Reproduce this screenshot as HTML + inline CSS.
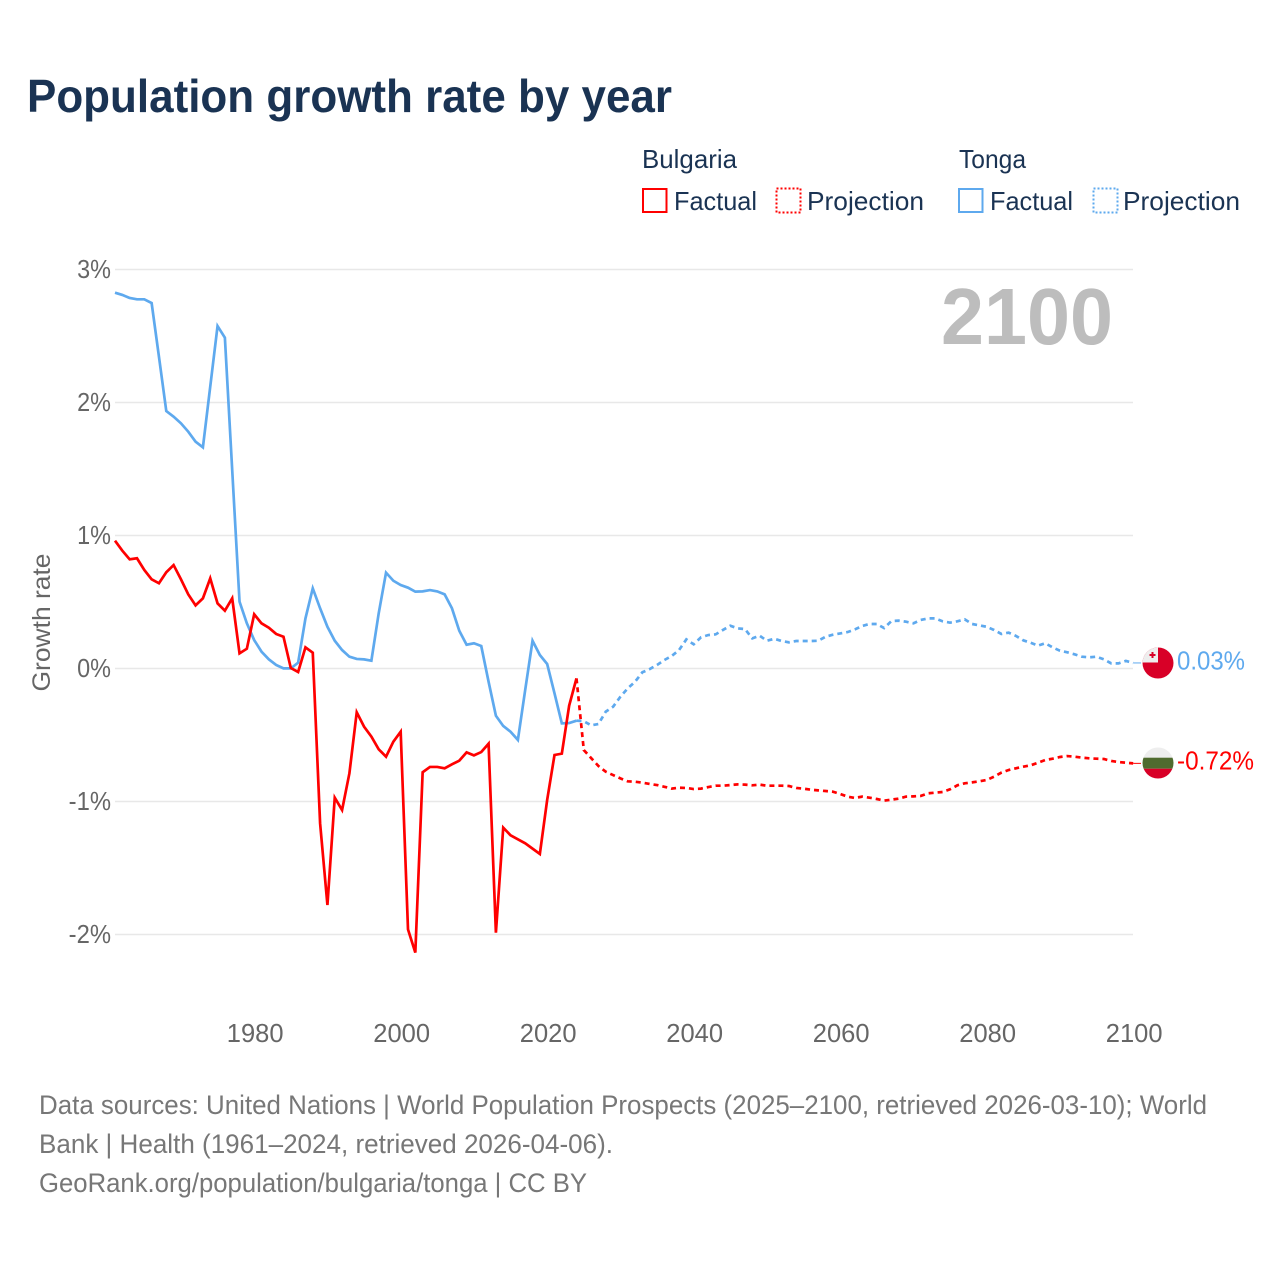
<!DOCTYPE html>
<html lang="en">
<head>
<meta charset="utf-8">
<title>Population growth rate by year</title>
<style>
html,body{margin:0;padding:0;background:#fff;}
svg{display:block;font-family:"Liberation Sans",sans-serif;}
</style>
</head>
<body>
<svg id="chart" width="1280" height="1280" viewBox="0 0 1280 1280" xmlns="http://www.w3.org/2000/svg">
  <rect x="0" y="0" width="1280" height="1280" fill="#fff"/>
  <text x="27" y="112" font-size="46" font-weight="700" fill="#1a3353" textLength="645" lengthAdjust="spacingAndGlyphs">Population growth rate by year</text>

  <g font-size="26" fill="#1a3353">
    <text x="642" y="168" textLength="95" lengthAdjust="spacingAndGlyphs">Bulgaria</text>
    <rect x="643" y="189" width="23.5" height="23" fill="none" stroke="#ff0000" stroke-width="2"/>
    <text x="674" y="210" textLength="83" lengthAdjust="spacingAndGlyphs">Factual</text>
    <rect x="776.5" y="188.5" width="24" height="24" fill="none" stroke="#ff0000" stroke-width="2" stroke-dasharray="2 2"/>
    <text x="807" y="210" textLength="117" lengthAdjust="spacingAndGlyphs">Projection</text>
    <text x="959" y="168" textLength="67" lengthAdjust="spacingAndGlyphs">Tonga</text>
    <rect x="959" y="189" width="23.5" height="23" fill="none" stroke="#5ea9ee" stroke-width="2"/>
    <text x="990" y="210" textLength="83" lengthAdjust="spacingAndGlyphs">Factual</text>
    <rect x="1093.5" y="188.5" width="24" height="24" fill="none" stroke="#5ea9ee" stroke-width="2" stroke-dasharray="2 2"/>
    <text x="1123" y="210" textLength="117" lengthAdjust="spacingAndGlyphs">Projection</text>
  </g>

  <g id="grid"></g>
  <g id="yticks" font-size="25.5" fill="#666"></g>
  <g id="xticks" font-size="25.5" fill="#666" text-anchor="middle"></g>
  <text transform="translate(50,622.5) rotate(-90)" font-size="25" fill="#666" text-anchor="middle" textLength="138" lengthAdjust="spacingAndGlyphs">Growth rate</text>
  <text x="941" y="344" font-size="80" font-weight="700" fill="#bdbdbd" textLength="172" lengthAdjust="spacingAndGlyphs">2100</text>

  <g id="series"></g>

  <defs>
    <clipPath id="flag-clip-to"><circle cx="1158" cy="663" r="15.5"/></clipPath>
    <clipPath id="flag-clip-bg"><circle cx="1158" cy="763" r="15.5"/></clipPath>
  </defs>
  <g clip-path="url(#flag-clip-to)">
    <rect x="1142" y="647" width="32" height="32" fill="#d80027"/>
    <rect x="1142" y="647" width="16" height="15.5" fill="#eeeeee"/>
    <rect x="1149.5" y="654" width="6" height="2" fill="#d80027"/>
    <rect x="1151.5" y="652" width="2" height="6" fill="#d80027"/>
  </g>
  <g clip-path="url(#flag-clip-bg)">
    <rect x="1142" y="747" width="32" height="11" fill="#eeeeee"/>
    <rect x="1142" y="757.7" width="32" height="11" fill="#4f6b2f"/>
    <rect x="1142" y="768.7" width="32" height="11" fill="#d80027"/>
  </g>
  <text x="1177" y="669.5" font-size="25.5" fill="#5ea9ee" textLength="68" lengthAdjust="spacingAndGlyphs">0.03%</text>
  <text x="1177" y="769.5" font-size="25.5" fill="#ff0000" textLength="77" lengthAdjust="spacingAndGlyphs">-0.72%</text>

  <g font-size="27" fill="#777">
    <text x="39" y="1114" textLength="1168" lengthAdjust="spacingAndGlyphs">Data sources: United Nations | World Population Prospects (2025–2100, retrieved 2026-03-10); World</text>
    <text x="39" y="1153" textLength="574" lengthAdjust="spacingAndGlyphs">Bank | Health (1961–2024, retrieved 2026-04-06).</text>
    <text x="39" y="1192" textLength="548" lengthAdjust="spacingAndGlyphs">GeoRank.org/population/bulgaria/tonga | CC BY</text>
  </g>
</svg>
<script>
const firstFactualYear = 1961;
const firstProjectionYear = 2024;
const yTickValues = [3, 2, 1, 0, -1, -2];
const yTickLabels = ["3%", "2%", "1%", "0%", "-1%", "-2%"];
const xTickValues = [1980, 2000, 2020, 2040, 2060, 2080, 2100];
const xTickLabels = ["1980", "2000", "2020", "2040", "2060", "2080", "2100"];

const bulgariaFactual = [0.957,0.882,0.817,0.825,0.737,0.667,0.637,0.72,0.774,0.667,0.554,0.471,0.524,0.674,0.486,0.431,0.524,0.11,0.145,0.404,0.336,0.303,0.256,0.235,0.0,-0.03,0.155,0.115,-1.168,-1.782,-0.975,-1.068,-0.792,-0.333,-0.441,-0.516,-0.611,-0.667,-0.554,-0.479,-1.965,-2.14,-0.784,-0.744,-0.744,-0.754,-0.724,-0.697,-0.634,-0.657,-0.632,-0.569,-1.99,-1.2,-1.258,-1.288,-1.318,-1.358,-1.398,-0.992,-0.654,-0.644,-0.283,-0.078];
const bulgariaProjection = [-0.078,-0.617,-0.677,-0.737,-0.78,-0.805,-0.83,-0.852,-0.855,-0.862,-0.872,-0.88,-0.893,-0.907,-0.9,-0.902,-0.91,-0.907,-0.895,-0.885,-0.885,-0.88,-0.875,-0.877,-0.882,-0.877,-0.885,-0.885,-0.885,-0.887,-0.902,-0.907,-0.915,-0.92,-0.925,-0.93,-0.947,-0.967,-0.977,-0.967,-0.975,-0.985,-0.997,-0.99,-0.982,-0.967,-0.965,-0.962,-0.942,-0.937,-0.932,-0.912,-0.882,-0.867,-0.86,-0.852,-0.842,-0.817,-0.787,-0.767,-0.754,-0.742,-0.732,-0.712,-0.692,-0.682,-0.669,-0.662,-0.667,-0.674,-0.679,-0.682,-0.684,-0.699,-0.707,-0.712,-0.717];
const tongaFactual = [2.822,2.805,2.782,2.772,2.772,2.744,2.341,1.932,1.89,1.84,1.777,1.702,1.659,2.115,2.571,2.484,1.489,0.499,0.336,0.21,0.123,0.065,0.023,-0.003,-0.003,0.04,0.373,0.599,0.449,0.31,0.205,0.135,0.085,0.068,0.065,0.055,0.411,0.717,0.656,0.624,0.604,0.574,0.576,0.586,0.576,0.554,0.449,0.28,0.175,0.186,0.165,-0.103,-0.359,-0.436,-0.479,-0.541,-0.165,0.205,0.098,0.03,-0.19,-0.416,-0.414,-0.396];
const tongaProjection = [-0.396,-0.40,-0.431,-0.421,-0.328,-0.291,-0.216,-0.153,-0.103,-0.032,-0.008,0.023,0.06,0.09,0.135,0.215,0.178,0.231,0.248,0.253,0.286,0.318,0.298,0.293,0.223,0.243,0.205,0.22,0.203,0.193,0.203,0.203,0.203,0.205,0.235,0.25,0.26,0.27,0.29,0.316,0.331,0.331,0.30,0.353,0.356,0.348,0.336,0.361,0.373,0.373,0.351,0.341,0.351,0.366,0.331,0.321,0.31,0.286,0.256,0.266,0.241,0.208,0.19,0.168,0.186,0.155,0.13,0.118,0.103,0.085,0.08,0.085,0.065,0.035,0.035,0.053,0.038];

function xScale(year) { return 115 + (year - 1961) * 7.325; }
function yScale(value) { return 668 - value * 133; }

const NS = "http://www.w3.org/2000/svg";
const gridGroup = document.getElementById("grid");
const yTickGroup = document.getElementById("yticks");
const xTickGroup = document.getElementById("xticks");
const seriesGroup = document.getElementById("series");

yTickValues.forEach(function (value, i) {
  const line = document.createElementNS(NS, "line");
  line.setAttribute("x1", 115);
  line.setAttribute("x2", 1133);
  line.setAttribute("y1", yScale(value) + 0.5);
  line.setAttribute("y2", yScale(value) + 0.5);
  line.setAttribute("stroke", "#e8e8e8");
  line.setAttribute("stroke-width", "1.5");
  
  
  gridGroup.appendChild(line);

  const label = document.createElementNS(NS, "text");
  label.setAttribute("y", yScale(value) + 9);
  label.textContent = yTickLabels[i];
  
  
  yTickGroup.appendChild(label);
  const narrowed = label.getComputedTextLength() - 3;
  label.setAttribute("textLength", narrowed);
  label.setAttribute("lengthAdjust", "spacingAndGlyphs");
  label.setAttribute("x", 111 - narrowed);
});

xTickValues.forEach(function (year, i) {
  const label = document.createElementNS(NS, "text");
  label.setAttribute("x", xScale(year) + 1);
  label.setAttribute("y", 1042);
  label.textContent = xTickLabels[i];
  
  
  xTickGroup.appendChild(label);
});

function pointsFor(values, startYear) {
  return values.map(function (value, i) {
    return xScale(startYear + i).toFixed(2) + "," + yScale(value).toFixed(2);
  }).join(" ");
}

function drawConnector(values, color) {
  const last = values[values.length - 1];
  const line = document.createElementNS(NS, "line");
  line.setAttribute("x1", xScale(2100));
  line.setAttribute("x2", 1141);
  line.setAttribute("y1", yScale(last));
  line.setAttribute("y2", yScale(last));
  line.setAttribute("stroke", color);
  line.setAttribute("stroke-width", "1");
  
  
  seriesGroup.appendChild(line);
}

function drawLine(values, startYear, color, dashed) {
  const line = document.createElementNS(NS, "polyline");
  line.setAttribute("points", pointsFor(values, startYear));
  line.setAttribute("fill", "none");
  line.setAttribute("stroke", color);
  line.setAttribute("stroke-width", "2.7");
  line.setAttribute("stroke-linejoin", "miter");
  if (dashed) {
    line.setAttribute("stroke-dasharray", "5 4");
    
  } else {
    
  }
  
  seriesGroup.appendChild(line);
}

drawLine(tongaProjection, firstProjectionYear, "#5ea9ee", true);
drawLine(tongaFactual, firstFactualYear, "#5ea9ee", false);
drawLine(bulgariaProjection, firstProjectionYear, "#ff0000", true);
drawLine(bulgariaFactual, firstFactualYear, "#ff0000", false);
drawConnector(tongaProjection, "#5ea9ee");
drawConnector(bulgariaProjection, "#ff0000");
</script>
</body>
</html>
